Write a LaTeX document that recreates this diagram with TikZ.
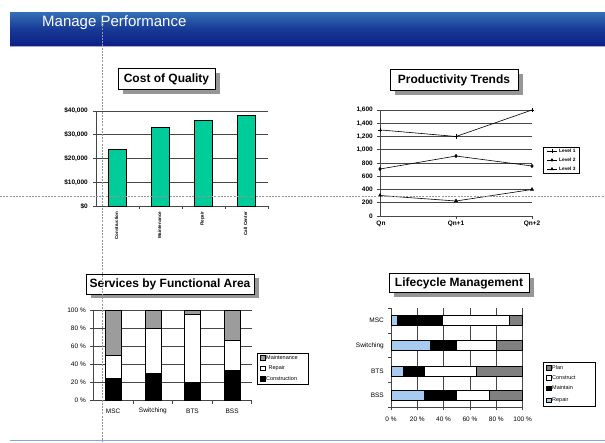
\documentclass[tikz,border=0pt]{standalone}
\usepackage{fontspec}
\setmainfont{Liberation Sans}
\usepackage{tikz}
\usetikzlibrary{positioning}
\usetikzlibrary{shadows}
\usetikzlibrary{plotmarks}

\definecolor{hdrtop}{RGB}{52,112,184}
\definecolor{hdrmid}{RGB}{24,58,150}
\definecolor{hdrbot}{RGB}{14,30,134}
\definecolor{hdrline}{RGB}{160,168,216}
\definecolor{footline}{RGB}{128,168,232}
\definecolor{barteal}{RGB}{0,204,153}
\definecolor{mntgray}{RGB}{156,156,156}
\definecolor{plangray}{RGB}{128,128,128}
\definecolor{repblue}{RGB}{166,202,240}
\definecolor{shadowgray}{RGB}{150,150,150}
\definecolor{gridgray}{RGB}{70,70,70}
\definecolor{guidegray}{RGB}{150,150,150}

\begin{document}
\begin{tikzpicture}[x=1pt,y=-1pt,
    charttitle/.style={draw=black,fill=white,line width=0.8pt,inner xsep=0pt,
        font=\bfseries\fontsize{12}{14}\selectfont,minimum height=21pt,
        drop shadow={shadow xshift=5pt,shadow yshift=-4pt,fill=shadowgray,opacity=1}},
    gridline/.style={draw=gridgray,line width=0.7pt},
    chartbar/.style={draw=black,line width=0.7pt},
    trend/.style={draw=black,line width=0.6pt},
    boldlabel/.style={font=\bfseries\fontsize{6.5}{7}\selectfont,inner sep=1pt},
    catlabel/.style={font=\bfseries\fontsize{4.5}{5}\selectfont,inner sep=0.5pt,rotate=90,anchor=east},
    ticklabel/.style={font=\fontsize{6.5}{7}\selectfont,inner sep=1pt},
    legendbox/.style={draw=black,line width=0.6pt,fill=white},
    legendtext/.style={font=\fontsize{5.5}{6}\selectfont,inner sep=0.5pt,anchor=west},
    swatch/.style={draw=black,line width=0.4pt,minimum size=4.5pt,inner sep=0pt},
    guide/.style={draw=guidegray,line width=0.8pt,dash pattern=on 2pt off 1.2pt}]

        \useasboundingbox (0,0) rectangle (605,442);

        % Header band
        \shade[top color=hdrtop,bottom color=hdrbot,middle color=hdrmid] (10,12) rectangle (605,46);
        \draw[hdrline,line width=1pt] (10,46.7) -- (605,46.7);
        \node[anchor=base west,text=white,font=\fontsize{15}{18}\selectfont,inner sep=0pt] (pagetitle) at (42,26.5) {Manage Performance};

        % Cost of Quality
        \node[charttitle,minimum width=97pt] (costtitle) at (166.5,79) {Cost of Quality};
        \draw[gridline] (96,111) -- (268,111) (96,134.75) -- (268,134.75) (96,158.5) -- (268,158.5) (96,182.25) -- (268,182.25);
        \draw[gridline] (93,111) -- (96,111) (93,134.75) -- (96,134.75) (93,158.5) -- (96,158.5) (93,182.25) -- (96,182.25) (93,206) -- (96,206);
        \draw[gridline] (96,111) -- (96,206) -- (268,206);
        \draw[gridline] (139,206) -- (139,209) (182,206) -- (182,209) (225,206) -- (225,209) (268,206) -- (268,209);
        \draw[chartbar,fill=barteal] (108.5,206) rectangle (126.5,149);
        \draw[chartbar,fill=barteal] (151.5,206) rectangle (169.5,127.6);
        \draw[chartbar,fill=barteal] (194.5,206) rectangle (212.5,120.5);
        \draw[chartbar,fill=barteal] (237.5,206) rectangle (255.5,115.5);
        \node[boldlabel,anchor=east] (cq40) at (89,111) {\$40,000};
        \node[boldlabel,anchor=east] (cq30) at (89,134.75) {\$30,000};
        \node[boldlabel,anchor=east] (cq20) at (89,158.5) {\$20,000};
        \node[boldlabel,anchor=east] (cq10) at (89,182.25) {\$10,000};
        \node[boldlabel,anchor=east] (cq0) at (89,206) {\$0};
        \node[catlabel] (cqcons) at (116.5,211) {Construction};
        \node[catlabel] (cqmaint) at (159.5,211) {Maintenance};
        \node[catlabel] (cqrep) at (202.5,211) {Repair};
        \node[catlabel] (cqcall) at (245.5,211) {Call Center};

        % Productivity Trends
        \node[charttitle,minimum width=128pt] (prodtitle) at (454,80) {Productivity Trends};
        \draw[gridline] (380,110) -- (532,110) (380,123.25) -- (532,123.25) (380,136.5) -- (532,136.5) (380,149.75) -- (532,149.75)
            (380,163) -- (532,163) (380,176.25) -- (532,176.25) (380,189.5) -- (532,189.5) (380,202.75) -- (532,202.75);
        \draw[gridline] (377,110) -- (380,110) (377,123.25) -- (380,123.25) (377,136.5) -- (380,136.5) (377,149.75) -- (380,149.75)
            (377,163) -- (380,163) (377,176.25) -- (380,176.25) (377,189.5) -- (380,189.5) (377,202.75) -- (380,202.75) (377,216) -- (380,216);
        \draw[gridline] (380,110) -- (380,216) -- (532,216);
        \draw[gridline] (456,216) -- (456,219) (532,216) -- (532,219);
        \draw[trend] plot[mark=+,mark size=2.2pt] coordinates {(380,129.9) (456,136.5) (532,110)};
        \draw[trend] plot[mark=diamond*,mark size=1.6pt] coordinates {(380,169) (456,156) (532,166)};
        \draw[trend] plot[mark=triangle*,mark size=1.8pt] coordinates {(380,195.5) (456,201) (532,189.5)};
        \node[boldlabel,anchor=east] (pt16) at (374,110) {1,600};
        \node[boldlabel,anchor=east] (pt14) at (374,123.25) {1,400};
        \node[boldlabel,anchor=east] (pt12) at (374,136.5) {1,200};
        \node[boldlabel,anchor=east] (pt10) at (374,149.75) {1,000};
        \node[boldlabel,anchor=east] (pt8) at (374,163) {800};
        \node[boldlabel,anchor=east] (pt6) at (374,176.25) {600};
        \node[boldlabel,anchor=east] (pt4) at (374,189.5) {400};
        \node[boldlabel,anchor=east] (pt2) at (374,202.75) {200};
        \node[boldlabel,anchor=east] (pt0) at (374,216) {0};
        \node[boldlabel,anchor=north] (ptq0) at (381,219.5) {Qn};
        \node[boldlabel,anchor=north] (ptq1) at (456,219.5) {Qn+1};
        \node[boldlabel,anchor=north] (ptq2) at (532,219.5) {Qn+2};
        \draw[legendbox] (543,147) rectangle (579,173);
        \draw[trend] (547,151) -- (557,151);
        \draw[trend] plot[mark=+,mark size=2pt] coordinates {(552,151)};
        \draw[trend] (547,160) -- (557,160);
        \draw[trend] plot[mark=diamond*,mark size=1.3pt] coordinates {(552,160)};
        \draw[trend] (547,169) -- (557,169);
        \draw[trend] plot[mark=triangle*,mark size=1.5pt] coordinates {(552,169)};
        \node[legendtext,font=\bfseries\fontsize{4.8}{5}\selectfont] (ptlev1) at (558.5,151) {Level 1};
        \node[legendtext,font=\bfseries\fontsize{4.8}{5}\selectfont] (ptlev2) at (558.5,160) {Level 2};
        \node[legendtext,font=\bfseries\fontsize{4.8}{5}\selectfont] (ptlev3) at (558.5,169) {Level 3};

        % Services by Functional Area
        \node[charttitle,minimum width=168pt,minimum height=20pt] (svctitle) at (170,284) {Services by Functional Area};
        \draw[gridline] (93.3,310) -- (251.7,310) (93.3,328.14) -- (251.7,328.14) (93.3,346.28) -- (251.7,346.28)
            (93.3,364.42) -- (251.7,364.42) (93.3,382.56) -- (251.7,382.56);
        \draw[gridline] (90.3,310) -- (93.3,310) (90.3,328.14) -- (93.3,328.14) (90.3,346.28) -- (93.3,346.28)
            (90.3,364.42) -- (93.3,364.42) (90.3,382.56) -- (93.3,382.56) (90.3,400.7) -- (93.3,400.7);
        \draw[gridline] (93.3,310) -- (93.3,400.7) -- (251.7,400.7);
        \draw[gridline] (132.9,400.7) -- (132.9,403.7) (172.5,400.7) -- (172.5,403.7) (212.1,400.7) -- (212.1,403.7) (251.7,400.7) -- (251.7,403.7);
        \draw[chartbar,fill=black] (105.2,400.7) rectangle (121.2,378);
        \draw[chartbar,fill=white] (105.2,378) rectangle (121.2,355.35);
        \draw[chartbar,fill=mntgray] (105.2,355.35) rectangle (121.2,310);
        \draw[chartbar,fill=black] (144.9,400.7) rectangle (160.9,373.5);
        \draw[chartbar,fill=white] (144.9,373.5) rectangle (160.9,328.1);
        \draw[chartbar,fill=mntgray] (144.9,328.1) rectangle (160.9,310);
        \draw[chartbar,fill=black] (184.5,400.7) rectangle (200.5,382.6);
        \draw[chartbar,fill=white] (184.5,382.6) rectangle (200.5,314.5);
        \draw[chartbar,fill=mntgray] (184.5,314.5) rectangle (200.5,310);
        \draw[chartbar,fill=black] (224.1,400.7) rectangle (240.1,369.9);
        \draw[chartbar,fill=white] (224.1,369.9) rectangle (240.1,339.9);
        \draw[chartbar,fill=mntgray] (224.1,339.9) rectangle (240.1,310);
        \node[ticklabel,anchor=east] (sv100) at (87,310) {100 \%};
        \node[ticklabel,anchor=east] (sv80) at (87,328.14) {80 \%};
        \node[ticklabel,anchor=east] (sv60) at (87,346.28) {60 \%};
        \node[ticklabel,anchor=east] (sv40) at (87,364.42) {40 \%};
        \node[ticklabel,anchor=east] (sv20) at (87,382.56) {20 \%};
        \node[ticklabel,anchor=east] (sv0) at (87,400.7) {0 \%};
        \node[ticklabel] (svmsc) at (113.2,411) {MSC};
        \node[ticklabel] (svswi) at (152.9,411) {Switching};
        \node[ticklabel] (svbts) at (192.5,411) {BTS};
        \node[ticklabel] (svbss) at (232.1,411) {BSS};
        \draw[legendbox] (257,353) rectangle (308,384);
        \node[swatch,fill=mntgray] (svkeym) at (262.5,357.7) {};
        \node[swatch,fill=white] (svkeyr) at (262.5,368.2) {};
        \node[swatch,fill=black] (svkeyc) at (262.5,378.5) {};
        \node[legendtext] (svtxtm) at (265.5,357.7) {Maintenance};
        \node[legendtext] (svtxtr) at (268,368.2) {Repair};
        \node[legendtext] (svtxtc) at (265.5,378.5) {Construction};

        % Lifecycle Management
        \node[charttitle,minimum width=140pt,minimum height=19pt] (lifetitle) at (459,283) {Lifecycle Management};
        \draw[gridline] (417.3,308.3) -- (417.3,407.3) (443.6,308.3) -- (443.6,407.3) (470,308.3) -- (470,407.3)
            (496.3,308.3) -- (496.3,407.3) (522.6,308.3) -- (522.6,407.3);
        \draw[gridline] (391,315.7) -- (522.6,315.7) (391,325.7) -- (522.6,325.7) (391,340.7) -- (522.6,340.7) (391,350.7) -- (522.6,350.7)
            (391,366.3) -- (522.6,366.3) (391,376.3) -- (522.6,376.3) (391,390.7) -- (522.6,390.7) (391,400.7) -- (522.6,400.7);
        \draw[gridline] (388,308.3) -- (391,308.3) (388,333.05) -- (391,333.05) (388,357.8) -- (391,357.8) (388,382.55) -- (391,382.55) (388,407.3) -- (391,407.3);
        \draw[gridline] (391,308.3) -- (391,407.3) -- (522.6,407.3);
        \draw[gridline] (391,407.3) -- (391,410.3) (417.3,407.3) -- (417.3,410.3) (443.6,407.3) -- (443.6,410.3)
            (470,407.3) -- (470,410.3) (496.3,407.3) -- (496.3,410.3) (522.6,407.3) -- (522.6,410.3);
        \draw[chartbar,fill=repblue] (391,315.7) rectangle (397.6,325.7);
        \draw[chartbar,fill=black] (397.6,315.7) rectangle (442.3,325.7);
        \draw[chartbar,fill=white] (442.3,315.7) rectangle (509.4,325.7);
        \draw[chartbar,fill=plangray] (509.4,315.7) rectangle (522.6,325.7);
        \draw[chartbar,fill=repblue] (391,340.7) rectangle (430.5,350.7);
        \draw[chartbar,fill=black] (430.5,340.7) rectangle (456.8,350.7);
        \draw[chartbar,fill=white] (456.8,340.7) rectangle (496.3,350.7);
        \draw[chartbar,fill=plangray] (496.3,340.7) rectangle (522.6,350.7);
        \draw[chartbar,fill=repblue] (391,366.3) rectangle (403.4,376.3);
        \draw[chartbar,fill=black] (403.4,366.3) rectangle (424.3,376.3);
        \draw[chartbar,fill=white] (424.3,366.3) rectangle (476,376.3);
        \draw[chartbar,fill=plangray] (476,366.3) rectangle (522.6,376.3);
        \draw[chartbar,fill=repblue] (391,390.7) rectangle (423.9,400.7);
        \draw[chartbar,fill=black] (423.9,390.7) rectangle (456.8,400.7);
        \draw[chartbar,fill=white] (456.8,390.7) rectangle (489.7,400.7);
        \draw[chartbar,fill=plangray] (489.7,390.7) rectangle (522.6,400.7);
        \node[ticklabel,anchor=east] (lcmsc) at (385,320.7) {MSC};
        \node[ticklabel,anchor=east] (lcswi) at (385,345.7) {Switching};
        \node[ticklabel,anchor=east] (lcbts) at (385,371.3) {BTS};
        \node[ticklabel,anchor=east] (lcbss) at (385,395.7) {BSS};
        \node[ticklabel] (lc0) at (391,419.5) {0 \%};
        \node[ticklabel] (lc20) at (417.3,419.5) {20 \%};
        \node[ticklabel] (lc40) at (443.6,419.5) {40 \%};
        \node[ticklabel] (lc60) at (470,419.5) {60 \%};
        \node[ticklabel] (lc80) at (496.3,419.5) {80 \%};
        \node[ticklabel] (lc100) at (522.6,419.5) {100 \%};
        \draw[legendbox] (543,362.7) rectangle (595.7,406.7);
        \node[swatch,fill=plangray] (lckeyp) at (548.5,367.7) {};
        \node[swatch,fill=white] (lckeyc) at (548.5,377.7) {};
        \node[swatch,fill=black] (lckeym) at (548.5,388) {};
        \node[swatch,fill=repblue] (lckeyr) at (548.5,400) {};
        \node[legendtext] (lctxtp) at (551.5,367.7) {Plan};
        \node[legendtext] (lctxtc) at (551.5,377.7) {Construct};
        \node[legendtext] (lctxtm) at (551.5,388) {Maintain};
        \node[legendtext] (lctxtr) at (551.5,400) {Repair};

        % Footer line and guides
        \draw[footline,line width=1.5pt] (10,440.5) -- (605,440.5);
        \draw[guide] (102,22) -- (102,442);
        \draw[guide] (0,196) -- (605,196);

\end{tikzpicture}
\end{document}
